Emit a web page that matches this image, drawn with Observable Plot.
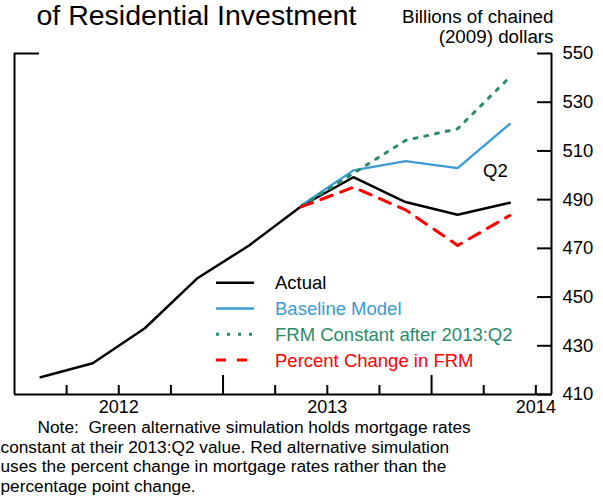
<!DOCTYPE html>
<html><head><meta charset="utf-8">
<script src="https://cdn.jsdelivr.net/npm/d3@7"></script>
<script src="https://cdn.jsdelivr.net/npm/@observablehq/plot@0.6"></script>
<style>body{margin:0;background:#fff;}</style>
</head><body><div id="chart"></div>
<script>
// ---- data ----
const quarters = ["2012:Q1","2012:Q2","2012:Q3","2012:Q4","2013:Q1","2013:Q2","2013:Q3","2013:Q4","2014:Q1","2014:Q2"];
const actual = [417.1, 422.8, 437.2, 457.6, 471.2, 487.3, 499.2, 489.0, 483.8, 488.7];
const simQuarters = ["2013:Q2","2013:Q3","2013:Q4","2014:Q1","2014:Q2"];
const baseline = [487.6, 502.0, 505.8, 502.9, 521.1];
const frmConstant = [487.3, 500.8, 514.3, 519.1, 540.3];
const percentChange = [487.0, 495.1, 485.8, 471.2, 483.5];
const yTicks = [410, 430, 450, 470, 490, 510, 530, 550];
const yearLabels = ["2012", "2013", "2014"];
const seriesNames = ["Actual", "Baseline Model", "FRM Constant after 2013:Q2", "Percent Change in FRM"];
const q2Label = "Q2";
const q2LabelValue = 501.7;
const titleText = "of Residential Investment";
const yLabelText = "Billions of chained\n(2009) dollars";
const noteLine1 = "Note:  Green alternative simulation holds mortgage rates";
const noteRest = "constant at their 2013:Q2 value. Red alternative simulation\nuses the percent change in mortgage rates rather than the\npercentage point change.";

// ---- helpers ----
const qPos = s => { const [y, q] = s.split(":Q"); return +y + (+q - 1) / 4 + 1 / 8; };
const mk = (qs, vals) => qs.map((q, i) => ({x: qPos(q), v: vals[i]}));
const actualData = mk(quarters, actual);
const baseData = mk(simQuarters, baseline);
const frmData = mk(simQuarters, frmConstant);
const pctData = mk(simQuarters, percentChange);

const xMin = 2012, xMax = 2014.575;
const quarterTicks = [2012.25, 2012.5, 2012.75, 2013.25, 2013.5, 2013.75, 2014.25, 2014.5];
const yearTicks = [2013, 2014];
const yearLabelPos = yearLabels.map(y => +y + 0.5);

const colors = ["#000000", "#3a9bd5", "#2b8c6b", "#ff0000"];
const FONT = "'Liberation Sans', Arial, Helvetica, sans-serif";

const plot = Plot.plot({
  width: 603, height: 500,
  marginLeft: 14, marginRight: 52, marginTop: 53, marginBottom: 106,
  x: {domain: [xMin, xMax]},
  y: {domain: [410, 550]},
  style: {fontFamily: FONT, fontSize: "18px", color: "black", background: "white", overflow: "visible"},
  marks: [
    // frame
    Plot.ruleY([410], {strokeWidth: 2}),
    Plot.ruleX([xMin], {strokeWidth: 2}),
    Plot.ruleX([xMax], {strokeWidth: 2}),
    Plot.axisY([550], {anchor: "left", tickSize: 25, dx: 25, fill: "none", strokeWidth: 2, label: null}),
    // y axis (right, inward ticks)
    Plot.axisY(yTicks, {anchor: "right", tickSize: 15, dx: -15, fill: "none", strokeWidth: 2, label: null}),
    Plot.axisY(yTicks, {anchor: "right", tickSize: 0, tickPadding: 11, label: null, fontSize: 18.5}),
    // x axis (inward ticks)
    Plot.axisX(quarterTicks, {anchor: "bottom", tickSize: 9, dy: -9, fill: "none", strokeWidth: 2, label: null}),
    Plot.axisX(yearTicks, {anchor: "bottom", tickSize: 19, dy: -19, fill: "none", strokeWidth: 2, label: null}),
    Plot.axisX(yearLabelPos, {anchor: "bottom", tickSize: 0, tickPadding: 6, tickFormat: d => String(Math.floor(d)), label: null, fontSize: 18}),
    // series
    Plot.line(actualData, {x: "x", y: "v", stroke: colors[0], strokeWidth: 2.5}),
    Plot.line(baseData, {x: "x", y: "v", stroke: colors[1], strokeWidth: 2.3}),
    Plot.line(frmData, {x: "x", y: "v", stroke: colors[2], strokeWidth: 3, strokeDasharray: "3,8"}),
    Plot.line(pctData, {x: "x", y: "v", stroke: colors[3], strokeWidth: 3, strokeDasharray: "12,9"}),
    // annotation
    Plot.text([q2Label], {x: () => qPos(quarters[quarters.length - 1]), y: () => q2LabelValue, text: d => d, textAnchor: "end", fontSize: 18.5, fill: "black", dx: -2}),
    // titles / notes
    Plot.text([titleText], {frameAnchor: "top-left", dx: 22, dy: -29, lineAnchor: "bottom", textAnchor: "start", fontSize: 28.5, text: d => d}),
    Plot.text([yLabelText], {frameAnchor: "top-right", dx: 2, dy: -11, lineAnchor: "bottom", textAnchor: "end", fontSize: 18.8, lineHeight: 19.5/18.8, text: d => d}),
    Plot.text([noteLine1], {frameAnchor: "bottom-left", dx: 23, dy: 38.5, lineAnchor: "bottom", textAnchor: "start", fontSize: 17.3, text: d => d}),
    Plot.text([noteRest], {frameAnchor: "bottom-left", dx: -14, dy: 97.5, lineAnchor: "bottom", textAnchor: "start", fontSize: 17.3, lineHeight: 19.7/17.3, text: d => d})
  ]
});
document.getElementById("chart").appendChild(plot);

// legend overlay
const svg = d3.select(plot);
const lg = svg.append("g").attr("font-family", FONT).attr("font-size", 18.5).attr("text-anchor", "start");
const dashes = [null, null, "3,8", "10,11"];
const widths = [2.5, 2.3, 3, 3];
seriesNames.forEach((name, i) => {
  const cy = 282.7 + i * 25.8;
  lg.append("line").attr("x1", 216).attr("x2", 254).attr("y1", cy).attr("y2", cy)
    .attr("stroke", colors[i]).attr("stroke-width", widths[i]).attr("stroke-dasharray", dashes[i]);
  lg.append("text").attr("x", 275).attr("y", cy + 6.6).attr("fill", colors[i]).attr("text-anchor", "start").text(name);
});
</script>
</body></html>
